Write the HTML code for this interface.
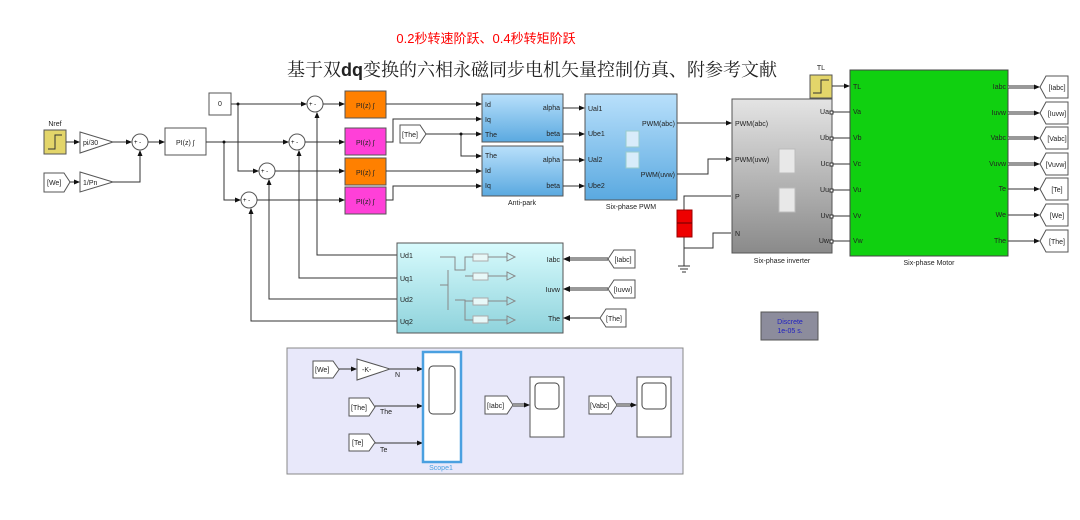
<!DOCTYPE html>
<html><head><meta charset="utf-8"><style>
html,body{margin:0;padding:0;background:#fff;}
svg{display:block;font-family:"Liberation Sans","Noto Sans CJK SC",sans-serif;}
.l{stroke:#333;stroke-width:1;fill:none}
.t{font-size:7px;fill:#222}
</style></head><body>
<svg width="1080" height="520" viewBox="0 0 1080 520" xmlns="http://www.w3.org/2000/svg">
<defs>
<marker id="a" markerWidth="6" markerHeight="6" refX="5" refY="3" orient="auto" markerUnits="userSpaceOnUse"><path d="M0,0.5 L6,3 L0,5.5z" fill="#111"/></marker>
<linearGradient id="blue" x1="0" y1="0" x2="0" y2="1"><stop offset="0" stop-color="#b9e0fb"/><stop offset="1" stop-color="#5aa9e0"/></linearGradient>
<linearGradient id="gray" x1="0" y1="0" x2="0" y2="1"><stop offset="0" stop-color="#e4e4e4"/><stop offset="1" stop-color="#8a8a8a"/></linearGradient>
<linearGradient id="cyan" x1="0" y1="0" x2="0" y2="1"><stop offset="0" stop-color="#d8fbfd"/><stop offset="1" stop-color="#8fd3dc"/></linearGradient>
</defs>

<text x="486" y="43" text-anchor="middle" font-size="13" fill="#f00">0.2秒转速阶跃、0.4秒转矩阶跃</text>
<text x="532" y="76" text-anchor="middle" font-size="18" fill="#222" style="font-family:'Liberation Serif','Noto Serif CJK SC',serif">基于双<tspan style="font-family:'Liberation Sans',sans-serif" font-weight="bold">dq</tspan>变换的六相永磁同步电机矢量控制仿真、附参考文献</text>

<!-- Left inputs -->
<text x="55" y="126" text-anchor="middle" class="t">Nref</text>
<rect x="44" y="130" width="22" height="24" fill="#e3d56a" stroke="#555"/>
<path d="M48,149 H55 V135 H62" stroke="#333" fill="none"/>
<path d="M80,132 L113,142 L80,153z" fill="#fff" stroke="#555"/>
<text x="83" y="145" class="t">pi/30</text>
<path d="M44,173 H64 L70,182 L64,192 H44z" fill="#fff" stroke="#555"/>
<text x="47" y="185" class="t">[We]</text>
<path d="M80,172 L113,182 L80,192z" fill="#fff" stroke="#555"/>
<text x="83" y="185" class="t">1/Pn</text>
<line x1="66" y1="142" x2="79" y2="142" class="l" marker-end="url(#a)"/>
<line x1="70" y1="182" x2="79" y2="182" class="l" marker-end="url(#a)"/>
<circle cx="140" cy="142" r="8" fill="#fff" stroke="#555"/>
<text x="134" y="144" font-size="6">+ -</text>
<line x1="113" y1="142" x2="131" y2="142" class="l" marker-end="url(#a)"/>
<path d="M113,182 H140 V151" class="l" marker-end="url(#a)"/>
<rect x="165" y="128" width="41" height="27" fill="#fff" stroke="#555"/>
<text x="176" y="145" class="t">PI(z) ∫</text>
<line x1="148" y1="142" x2="164" y2="142" class="l" marker-end="url(#a)"/>

<rect x="209" y="93" width="22" height="22" fill="#fff" stroke="#555"/>
<text x="218" y="106" class="t">0</text>

<!-- sums -->
<g fill="#fff" stroke="#555">
<circle cx="315" cy="104" r="8"/><circle cx="297" cy="142" r="8"/>
<circle cx="267" cy="171" r="8"/><circle cx="249" cy="200" r="8"/></g>
<g font-size="6"><text x="309" y="106">+ -</text><text x="291" y="144">+ -</text><text x="261" y="173">+ -</text><text x="243" y="202">+ -</text></g>
<path d="M231,104 H306" class="l" marker-end="url(#a)"/>
<path d="M238,104 V171 H258" class="l" marker-end="url(#a)"/>
<path d="M206,142 H288" class="l" marker-end="url(#a)"/>
<path d="M224,142 V200 H240" class="l" marker-end="url(#a)"/>
<circle cx="238" cy="104" r="1.5" fill="#111"/><circle cx="224" cy="142" r="1.5" fill="#111"/>

<!-- PI blocks -->
<rect x="345" y="91" width="41" height="27" fill="#ff8000" stroke="#555"/>
<rect x="345" y="128" width="41" height="27" fill="#ff40d8" stroke="#555"/>
<rect x="345" y="158" width="41" height="27" fill="#ff8000" stroke="#555"/>
<rect x="345" y="187" width="41" height="27" fill="#ff40d8" stroke="#555"/>
<g class="t"><text x="356" y="108">PI(z) ∫</text><text x="356" y="145">PI(z) ∫</text><text x="356" y="175">PI(z) ∫</text><text x="356" y="204">PI(z) ∫</text></g>
<line x1="323" y1="104" x2="344" y2="104" class="l" marker-end="url(#a)"/>
<line x1="305" y1="142" x2="344" y2="142" class="l" marker-end="url(#a)"/>
<line x1="275" y1="171" x2="344" y2="171" class="l" marker-end="url(#a)"/>
<line x1="257" y1="200" x2="344" y2="200" class="l" marker-end="url(#a)"/>

<!-- feedback lines from cyan block -->
<path d="M397,255 H317 V113" class="l" marker-end="url(#a)"/>
<path d="M397,278 H299 V151" class="l" marker-end="url(#a)"/>
<path d="M397,299 H269 V180" class="l" marker-end="url(#a)"/>
<path d="M397,321 H251 V209" class="l" marker-end="url(#a)"/>

<!-- to anti-park -->
<path d="M386,104 H481" class="l" marker-end="url(#a)"/>
<path d="M386,142 H393 V119 H481" class="l" marker-end="url(#a)"/>
<path d="M386,171 H481" class="l" marker-end="url(#a)"/>
<path d="M386,200 H393 V186 H481" class="l" marker-end="url(#a)"/>
<path d="M400,125 H420 L426,134 L420,143 H400z" fill="#fff" stroke="#555"/>
<text x="402" y="137" class="t">[The]</text>
<path d="M426,134 H481" class="l" marker-end="url(#a)"/>
<path d="M461,134 V156 H481" class="l" marker-end="url(#a)"/>
<circle cx="461" cy="134" r="1.5" fill="#111"/>

<!-- Anti-park -->
<rect x="482" y="94" width="81" height="48" fill="url(#blue)" stroke="#555"/>
<rect x="482" y="146" width="81" height="50" fill="url(#blue)" stroke="#555"/>
<g class="t"><text x="485" y="107">Id</text><text x="485" y="122">Iq</text><text x="485" y="137">The</text>
<text x="485" y="158">The</text><text x="485" y="173">Id</text><text x="485" y="188">Iq</text>
<text x="560" y="110" text-anchor="end">alpha</text><text x="560" y="136" text-anchor="end">beta</text>
<text x="560" y="162" text-anchor="end">alpha</text><text x="560" y="188" text-anchor="end">beta</text></g>
<text x="522" y="205" text-anchor="middle" class="t">Anti-park</text>
<line x1="563" y1="108" x2="584" y2="108" class="l" marker-end="url(#a)"/>
<line x1="563" y1="134" x2="584" y2="134" class="l" marker-end="url(#a)"/>
<line x1="563" y1="160" x2="584" y2="160" class="l" marker-end="url(#a)"/>
<line x1="563" y1="186" x2="584" y2="186" class="l" marker-end="url(#a)"/>

<!-- PWM -->
<rect x="585" y="94" width="92" height="106" fill="url(#blue)" stroke="#555"/>
<g class="t"><text x="588" y="111">Ual1</text><text x="588" y="136">Ube1</text><text x="588" y="162">Ual2</text><text x="588" y="188">Ube2</text>
<text x="675" y="126" text-anchor="end">PWM(abc)</text><text x="675" y="177" text-anchor="end">PWM(uvw)</text></g>
<rect x="626" y="131" width="13" height="16" fill="#d8ecfa" stroke="#9cc"/>
<rect x="626" y="152" width="13" height="16" fill="#d8ecfa" stroke="#9cc"/>
<text x="631" y="209" text-anchor="middle" class="t">Six-phase PWM</text>
<line x1="677" y1="123" x2="731" y2="123" class="l" marker-end="url(#a)"/>
<path d="M677,174 H708 V159 H731" class="l" marker-end="url(#a)"/>

<!-- Inverter -->
<rect x="732" y="99" width="100" height="154" fill="url(#gray)" stroke="#555"/>
<g class="t"><text x="735" y="126">PWM(abc)</text><text x="735" y="162">PWM(uvw)</text><text x="735" y="199">P</text><text x="735" y="236">N</text>
<g text-anchor="end"><text x="829" y="114">Ua</text><text x="829" y="140">Ub</text><text x="829" y="166">Uc</text><text x="829" y="192">Uu</text><text x="829" y="218">Uv</text><text x="829" y="243">Uw</text></g></g>
<rect x="779" y="149" width="16" height="24" fill="#e8e8e8" stroke="#bbb"/>
<rect x="779" y="188" width="16" height="24" fill="#e8e8e8" stroke="#bbb"/>
<text x="782" y="263" text-anchor="middle" class="t">Six-phase inverter</text>
<path d="M731,196 H684 V210" class="l"/>
<path d="M731,233 H713 V248 H684 V237" class="l"/>
<rect x="677" y="210" width="15" height="27" fill="#e00" stroke="#900"/>
<line x1="677" y1="223" x2="692" y2="223" stroke="#600"/>
<path d="M684,248 V266 M678,266 H690 M680,269 H688 M682,272 H686" class="l"/>
<g fill="#fff" stroke="#333"><rect x="830" y="111" width="3" height="3"/><rect x="830" y="137" width="3" height="3"/><rect x="830" y="163" width="3" height="3"/><rect x="830" y="189" width="3" height="3"/><rect x="830" y="215" width="3" height="3"/><rect x="830" y="240" width="3" height="3"/></g>
<g class="l"><line x1="833" y1="112" x2="850" y2="112"/><line x1="833" y1="138" x2="850" y2="138"/><line x1="833" y1="164" x2="850" y2="164"/><line x1="833" y1="190" x2="850" y2="190"/><line x1="833" y1="216" x2="850" y2="216"/><line x1="833" y1="241" x2="850" y2="241"/></g>

<!-- TL -->
<text x="821" y="70" text-anchor="middle" class="t">TL</text>
<rect x="810" y="75" width="22" height="23" fill="#e3d56a" stroke="#555"/>
<path d="M813,93 H821 V80 H829" stroke="#333" fill="none"/>
<line x1="832" y1="86" x2="849" y2="86" class="l" marker-end="url(#a)"/>

<!-- Motor -->
<rect x="850" y="70" width="158" height="186" fill="#10d010" stroke="#444"/>
<g class="t"><text x="853" y="89">TL</text><text x="853" y="114">Va</text><text x="853" y="140">Vb</text><text x="853" y="166">Vc</text><text x="853" y="192">Vu</text><text x="853" y="218">Vv</text><text x="853" y="243">Vw</text>
<g text-anchor="end"><text x="1006" y="89">Iabc</text><text x="1006" y="115">Iuvw</text><text x="1006" y="140">Vabc</text><text x="1006" y="166">Vuvw</text><text x="1006" y="191">Te</text><text x="1006" y="217">We</text><text x="1006" y="243">The</text></g></g>
<text x="929" y="265" text-anchor="middle" class="t">Six-phase Motor</text>
<g stroke="#333" stroke-width="3" fill="none"><line x1="1008" y1="87" x2="1036" y2="87"/><line x1="1008" y1="113" x2="1036" y2="113"/><line x1="1008" y1="138" x2="1036" y2="138"/><line x1="1008" y1="164" x2="1036" y2="164"/></g>
<g stroke="#fff" stroke-width="1"><line x1="1008" y1="87" x2="1036" y2="87"/><line x1="1008" y1="113" x2="1036" y2="113"/><line x1="1008" y1="138" x2="1036" y2="138"/><line x1="1008" y1="164" x2="1036" y2="164"/></g>
<g class="l"><line x1="1036" y1="87" x2="1039" y2="87" marker-end="url(#a)"/><line x1="1036" y1="113" x2="1039" y2="113" marker-end="url(#a)"/><line x1="1036" y1="138" x2="1039" y2="138" marker-end="url(#a)"/><line x1="1036" y1="164" x2="1039" y2="164" marker-end="url(#a)"/>
<line x1="1008" y1="189" x2="1039" y2="189" marker-end="url(#a)"/><line x1="1008" y1="215" x2="1039" y2="215" marker-end="url(#a)"/><line x1="1008" y1="241" x2="1039" y2="241" marker-end="url(#a)"/></g>
<g fill="#fff" stroke="#555">
<path d="M1040,87 L1046,76 H1068 V98 H1046z"/><path d="M1040,113 L1046,102 H1068 V124 H1046z"/><path d="M1040,138 L1046,127 H1068 V149 H1046z"/><path d="M1040,164 L1046,153 H1068 V175 H1046z"/>
<path d="M1040,189 L1046,178 H1068 V200 H1046z"/><path d="M1040,215 L1046,204 H1068 V226 H1046z"/><path d="M1040,241 L1046,230 H1068 V252 H1046z"/></g>
<g class="t" text-anchor="middle"><text x="1057" y="90">[Iabc]</text><text x="1057" y="116">[Iuvw]</text><text x="1057" y="141">[Vabc]</text><text x="1056" y="167">[Vuvw]</text><text x="1057" y="192">[Te]</text><text x="1057" y="218">[We]</text><text x="1057" y="244">[The]</text></g>

<!-- Cyan subsystem -->
<rect x="397" y="243" width="166" height="90" fill="url(#cyan)" stroke="#555"/>
<g class="t"><text x="400" y="258">Ud1</text><text x="400" y="281">Uq1</text><text x="400" y="302">Ud2</text><text x="400" y="324">Uq2</text>
<g text-anchor="end"><text x="560" y="262">Iabc</text><text x="560" y="292">Iuvw</text><text x="560" y="321">The</text></g></g>
<g fill="#e8f8f8" stroke="#aaa"><rect x="473" y="254" width="15" height="7"/><rect x="473" y="273" width="15" height="7"/><rect x="473" y="298" width="15" height="7"/><rect x="473" y="316" width="15" height="7"/></g>
<g stroke="#888" fill="none"><path d="M440,257 H455 V270 H465 V257 H473 M465,276 H473 M440,285 H448 M448,270 V310 M455,300 H465 V320 H473 M465,301 H473 M488,257 H507 M488,276 H507 M488,301 H507 M488,320 H507"/>
<path d="M507,253 L515,257 L507,261z M507,272 L515,276 L507,280z M507,297 L515,301 L507,305z M507,316 L515,320 L507,324z"/></g>
<g stroke="#333" stroke-width="3"><line x1="566" y1="259" x2="608" y2="259"/><line x1="566" y1="289" x2="608" y2="289"/></g>
<g stroke="#fff" stroke-width="1"><line x1="566" y1="259" x2="608" y2="259"/><line x1="566" y1="289" x2="608" y2="289"/></g>
<path d="M570,256 L563,259 L570,262z M570,286 L563,289 L570,292z M570,315 L563,318 L570,321z" fill="#111"/>
<line x1="570" y1="318" x2="600" y2="318" class="l"/>
<g fill="#fff" stroke="#555"><path d="M608,259 L614,250 H635 V268 H614z"/><path d="M608,289 L614,280 H635 V298 H614z"/><path d="M600,318 L606,309 H626 V327 H606z"/></g>
<g class="t" text-anchor="middle"><text x="623" y="262">[Iabc]</text><text x="623" y="292">[Iuvw]</text><text x="614" y="321">[The]</text></g>

<!-- Discrete -->
<rect x="761" y="312" width="57" height="28" fill="#8c8c9c" stroke="#555"/>
<text x="790" y="324" text-anchor="middle" font-size="7" fill="#2020c0">Discrete</text>
<text x="790" y="333" text-anchor="middle" font-size="7" fill="#2020c0">1e-05 s.</text>

<!-- Bottom panel -->
<rect x="287" y="348" width="396" height="126" fill="#e8e8fa" stroke="#888"/>
<path d="M313,361 H333 L339,369.5 L333,378 H313z" fill="#fff" stroke="#555"/>
<text x="315" y="372" class="t">[We]</text>
<line x1="339" y1="369" x2="356" y2="369" class="l" marker-end="url(#a)"/>
<path d="M357,359 L390,369 L357,380z" fill="#fff" stroke="#555"/>
<text x="362" y="372" class="t">-K-</text>
<text x="395" y="377" class="t">N</text>
<line x1="390" y1="369" x2="422" y2="369" class="l" marker-end="url(#a)"/>
<path d="M349,398 H369 L375,407 L369,416 H349z" fill="#fff" stroke="#555"/>
<text x="351" y="410" class="t">[The]</text><text x="380" y="414" class="t">The</text>
<line x1="375" y1="406" x2="422" y2="406" class="l" marker-end="url(#a)"/>
<path d="M349,434 H369 L375,442.5 L369,451 H349z" fill="#fff" stroke="#555"/>
<text x="352" y="445" class="t">[Te]</text><text x="380" y="452" class="t">Te</text>
<line x1="375" y1="443" x2="422" y2="443" class="l" marker-end="url(#a)"/>
<rect x="423" y="352" width="38" height="110" fill="#fff" stroke="#4aa0e0" stroke-width="2.5"/>
<rect x="429" y="366" width="26" height="48" rx="4" fill="#fff" stroke="#444"/>
<text x="441" y="470" text-anchor="middle" font-size="7" fill="#4aa0e0">Scope1</text>
<path d="M485,396 H507 L513,405 L507,414 H485z" fill="#fff" stroke="#555"/>
<text x="487" y="408" class="t">[Iabc]</text>
<line x1="513" y1="405" x2="525" y2="405" stroke="#333" stroke-width="3"/><line x1="513" y1="405" x2="525" y2="405" stroke="#fff"/>
<line x1="524" y1="405" x2="529" y2="405" class="l" marker-end="url(#a)"/>
<rect x="530" y="377" width="34" height="60" fill="#fff" stroke="#555"/>
<rect x="535" y="383" width="24" height="26" rx="4" fill="#fff" stroke="#444"/>
<path d="M589,396 H611 L617,405 L611,414 H589z" fill="#fff" stroke="#555"/>
<text x="590" y="408" class="t">[Vabc]</text>
<line x1="617" y1="405" x2="631" y2="405" stroke="#333" stroke-width="3"/><line x1="617" y1="405" x2="631" y2="405" stroke="#fff"/>
<line x1="630" y1="405" x2="636" y2="405" class="l" marker-end="url(#a)"/>
<rect x="637" y="377" width="34" height="60" fill="#fff" stroke="#555"/>
<rect x="642" y="383" width="24" height="26" rx="4" fill="#fff" stroke="#444"/>
</svg>
</body></html>
